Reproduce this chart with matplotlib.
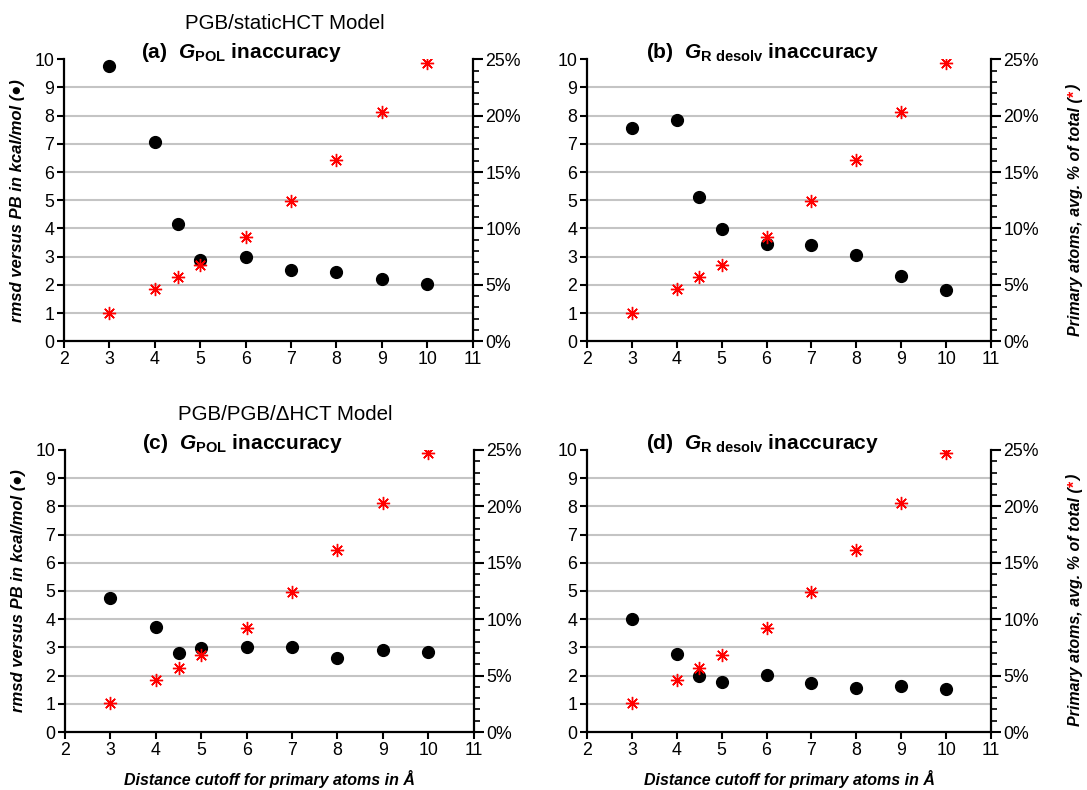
import matplotlib
matplotlib.use("Agg")
import matplotlib.pyplot as plt
from matplotlib.ticker import MultipleLocator, FuncFormatter

plt.rcParams["font.family"] = ["Liberation Sans", "DejaVu Sans"]
plt.rcParams["mathtext.fontset"] = "custom"
plt.rcParams["mathtext.rm"] = "Liberation Sans"
plt.rcParams["mathtext.bf"] = "Liberation Sans:bold"
plt.rcParams["mathtext.it"] = "Liberation Sans:italic"
plt.rcParams["mathtext.bfit"] = "Liberation Sans:bold:italic"

# distance cutoffs (angstrom)
cutoffs = [3, 4, 4.5, 5, 6, 7, 8, 9, 10]
# primary atoms, avg. % of total (same in every panel)
primary_pct = [2.55, 4.6, 5.7, 6.8, 9.25, 12.4, 16.1, 20.3, 24.7]

# rmsd versus PB (kcal/mol)
rmsd_a = [9.76, 7.07, 4.15, 2.87, 3.0, 2.52, 2.45, 2.2, 2.03]
rmsd_b = [7.58, 7.83, 5.13, 3.97, 3.45, 3.42, 3.07, 2.31, 1.83]
rmsd_c = [4.75, 3.73, 2.8, 2.97, 3.03, 3.0, 2.62, 2.9, 2.82]
rmsd_d = [4.0, 2.77, 1.97, 1.77, 2.03, 1.73, 1.55, 1.62, 1.52]

grid_levels = [1, 2, 3, 4, 5, 6, 7, 8, 9]

panels = [
    ("(a)", r"$\mathbfit{G}_{\mathbf{POL}}$", rmsd_a, "PGB/staticHCT Model"),
    ("(b)", r"$\mathbfit{G}_{\mathbf{R\ desolv}}$", rmsd_b, None),
    ("(c)", r"$\mathbfit{G}_{\mathbf{POL}}$", rmsd_c, "PGB/PGB/\u0394HCT Model"),
    ("(d)", r"$\mathbfit{G}_{\mathbf{R\ desolv}}$", rmsd_d, None),
]

positions = [
    [0.0589, 0.568, 0.376, 0.357],
    [0.540, 0.568, 0.3717, 0.357],
    [0.0598, 0.0734, 0.376, 0.357],
    [0.540, 0.0734, 0.3717, 0.357],
]

fig = plt.figure(figsize=(10.87, 7.90), dpi=100)

for i, (tag, gsym, rmsd, model) in enumerate(panels):
    ax = fig.add_axes(positions[i])
    ax.set_xlim(2, 11)
    ax.set_ylim(0, 10)
    ax.set_xticks(range(2, 12))
    ax.set_yticks(range(0, 11))
    ax.hlines(grid_levels, 2, 11, colors="#c4c4c4", linewidth=1.5, zorder=0)
    ax.plot(cutoffs, rmsd, "o", color="black", markersize=8.5, zorder=3)

    for s in ["left", "bottom"]:
        ax.spines[s].set_linewidth(1.6)
    ax.spines["top"].set_visible(False)
    ax.spines["right"].set_visible(False)
    ax.tick_params(axis="both", direction="out", length=5, width=1.5,
                   labelsize=12.8, pad=2)

    ax2 = ax.twinx()
    ax2.set_ylim(0, 25)
    ax2.plot(cutoffs, primary_pct, linestyle="none", marker=(8, 2, 0),
             color="red", markersize=9.5, markeredgewidth=1.0, zorder=4)
    ax2.yaxis.set_major_locator(MultipleLocator(5))
    ax2.yaxis.set_minor_locator(MultipleLocator(1))
    ax2.yaxis.set_major_formatter(FuncFormatter(lambda v, p: "%d%%" % v))
    for s in ["left", "bottom", "top"]:
        ax2.spines[s].set_visible(False)
    ax2.spines["right"].set_linewidth(1.6)
    ax2.tick_params(axis="y", which="major", direction="out", length=7,
                    width=1.5, labelsize=12.8, pad=2)
    ax2.tick_params(axis="y", which="minor", direction="out", length=4,
                    width=1.2)

    ax.text(0.435, 1.005, tag + "  " + gsym + " inaccuracy",
            transform=ax.transAxes, ha="center", va="baseline",
            fontsize=15, fontweight="bold")
    if model:
        ax.text(0.54, 1.125, model, transform=ax.transAxes, ha="center",
                va="center", fontsize=14.8)

    if i % 2 == 0:
        ax.set_ylabel("rmsd versus PB in kcal/mol (\u25cf)", fontsize=12,
                      fontweight="bold", fontstyle="italic", labelpad=7)
    else:
        t1 = ax2.text(1.208, 0.02, "Primary atoms, avg. % of total (",
                      transform=ax2.transAxes, rotation=90, ha="center",
                      va="bottom", fontsize=11.5, fontweight="bold",
                      fontstyle="italic")
        t2 = ax2.annotate("*", xy=(0.5, 1.0), xycoords=t1, rotation=90,
                          ha="center", va="bottom", fontsize=11.5,
                          fontweight="bold", color="red")
        ax2.annotate(")", xy=(0.5, 1.0), xycoords=t2, rotation=90,
                     ha="center", va="bottom", fontsize=11.5,
                     fontweight="bold", fontstyle="italic")

    if i >= 2:
        ax.set_xlabel("Distance cutoff for primary atoms in \u00c5",
                      fontsize=11.5, fontweight="bold", fontstyle="italic",
                      labelpad=8)

fig.savefig("out.png", dpi=100)
